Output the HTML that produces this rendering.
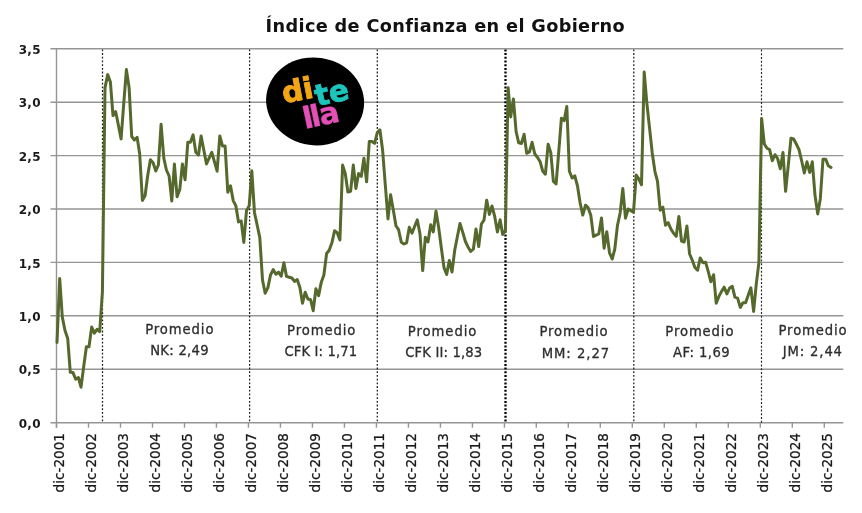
<!DOCTYPE html>
<html lang="es">
<head>
<meta charset="utf-8">
<title>Índice de Confianza en el Gobierno</title>
<style>
html,body{margin:0;padding:0;background:#fff;}
body{width:862px;height:513px;overflow:hidden;}
svg{display:block;will-change:transform;}
</style>
</head>
<body>
<svg width="862" height="513" viewBox="0 0 862 513">
<rect width="862" height="513" fill="#ffffff"/>
<g stroke="#959595" stroke-width="1.4">
<line x1="50.5" y1="48.8" x2="843.3" y2="48.8"/>
<line x1="50.5" y1="102.2" x2="843.3" y2="102.2"/>
<line x1="50.5" y1="155.6" x2="843.3" y2="155.6"/>
<line x1="50.5" y1="209.0" x2="843.3" y2="209.0"/>
<line x1="50.5" y1="262.4" x2="843.3" y2="262.4"/>
<line x1="50.5" y1="315.8" x2="843.3" y2="315.8"/>
<line x1="50.5" y1="369.2" x2="843.3" y2="369.2"/>
<line x1="50.5" y1="422.7" x2="843.3" y2="422.7"/>
<line x1="56.5" y1="48.8" x2="56.5" y2="427.7"/>
<line x1="56.5" y1="422.7" x2="56.5" y2="427.7"/>
<line x1="88.5" y1="422.7" x2="88.5" y2="427.7"/>
<line x1="120.5" y1="422.7" x2="120.5" y2="427.7"/>
<line x1="152.5" y1="422.7" x2="152.5" y2="427.7"/>
<line x1="184.5" y1="422.7" x2="184.5" y2="427.7"/>
<line x1="216.4" y1="422.7" x2="216.4" y2="427.7"/>
<line x1="248.4" y1="422.7" x2="248.4" y2="427.7"/>
<line x1="280.4" y1="422.7" x2="280.4" y2="427.7"/>
<line x1="312.4" y1="422.7" x2="312.4" y2="427.7"/>
<line x1="344.4" y1="422.7" x2="344.4" y2="427.7"/>
<line x1="376.4" y1="422.7" x2="376.4" y2="427.7"/>
<line x1="408.4" y1="422.7" x2="408.4" y2="427.7"/>
<line x1="440.4" y1="422.7" x2="440.4" y2="427.7"/>
<line x1="472.4" y1="422.7" x2="472.4" y2="427.7"/>
<line x1="504.4" y1="422.7" x2="504.4" y2="427.7"/>
<line x1="536.3" y1="422.7" x2="536.3" y2="427.7"/>
<line x1="568.3" y1="422.7" x2="568.3" y2="427.7"/>
<line x1="600.3" y1="422.7" x2="600.3" y2="427.7"/>
<line x1="632.3" y1="422.7" x2="632.3" y2="427.7"/>
<line x1="664.3" y1="422.7" x2="664.3" y2="427.7"/>
<line x1="696.3" y1="422.7" x2="696.3" y2="427.7"/>
<line x1="728.3" y1="422.7" x2="728.3" y2="427.7"/>
<line x1="760.3" y1="422.7" x2="760.3" y2="427.7"/>
<line x1="792.3" y1="422.7" x2="792.3" y2="427.7"/>
<line x1="824.3" y1="422.7" x2="824.3" y2="427.7"/>
</g>
<line x1="102.5" y1="49.4" x2="102.5" y2="422.7" stroke="#1a1a1a" stroke-width="1.25" stroke-dasharray="1.8 1.9"/>
<line x1="249.6" y1="49.4" x2="249.6" y2="422.7" stroke="#1a1a1a" stroke-width="1.25" stroke-dasharray="1.8 1.9"/>
<line x1="377.3" y1="49.4" x2="377.3" y2="422.7" stroke="#1a1a1a" stroke-width="1.25" stroke-dasharray="1.8 1.9"/>
<line x1="505.5" y1="49.4" x2="505.5" y2="422.7" stroke="#000" stroke-width="2.3" stroke-dasharray="2 1.7"/>
<line x1="633.8" y1="49.4" x2="633.8" y2="422.7" stroke="#1a1a1a" stroke-width="1.25" stroke-dasharray="1.8 1.9"/>
<line x1="761.5" y1="49.4" x2="761.5" y2="422.7" stroke="#2a2a2a" stroke-width="1.2" stroke-dasharray="2 1.75"/>
<polyline points="57.0,342.4 59.7,278.5 62.3,317.0 65.0,330.5 67.7,338.5 70.3,372.3 73.0,372.6 75.7,379.2 78.4,377.5 81.0,387.2 83.7,366.6 86.4,346.7 89.0,346.7 91.7,327.0 94.4,333.1 97.0,329.3 99.7,331.6 102.4,292.0 105.0,87.6 107.7,74.6 110.4,82.1 113.0,115.6 115.7,111.7 118.4,125.3 121.1,138.9 123.7,104.2 126.4,69.6 129.1,87.6 131.7,136.5 134.4,140.0 137.1,137.3 139.7,154.0 142.4,200.5 145.1,195.5 147.7,175.5 150.4,159.8 153.1,162.8 155.8,171.0 158.4,165.0 161.1,124.3 163.8,158.0 166.4,170.0 169.1,176.0 171.8,201.0 174.4,164.1 177.1,196.8 179.8,189.3 182.4,164.1 185.1,179.7 187.8,142.3 190.4,142.3 193.1,134.8 195.8,152.3 198.5,155.0 201.1,136.0 203.8,150.0 206.5,164.0 209.1,158.2 211.8,152.3 214.5,161.8 217.1,171.2 219.8,136.0 222.5,146.0 225.1,146.0 227.8,192.2 230.5,185.8 233.2,200.6 235.8,205.6 238.5,221.9 241.2,221.0 243.8,242.4 246.5,210.6 249.2,205.6 251.8,170.8 254.5,212.7 257.2,225.2 259.8,237.6 262.5,280.0 265.2,293.2 267.9,287.6 270.5,275.0 273.2,269.6 275.9,274.2 278.5,272.2 281.2,276.2 283.9,262.8 286.5,276.4 289.2,277.2 291.9,278.0 294.5,281.4 297.2,279.6 299.9,287.6 302.5,303.2 305.2,292.2 307.9,299.0 310.6,299.7 313.2,310.7 315.9,288.8 318.6,295.6 321.2,282.6 323.9,275.0 326.6,253.5 329.2,250.2 331.9,242.8 334.6,230.7 337.2,232.7 339.9,240.0 342.6,165.1 345.3,173.8 347.9,192.1 350.6,191.4 353.3,165.1 355.9,188.6 358.6,173.4 361.3,176.3 363.9,158.2 366.6,181.8 369.3,141.4 371.9,141.4 374.6,143.3 377.3,132.7 379.9,129.8 382.6,150.0 385.3,185.0 388.0,218.9 390.6,194.7 393.3,209.9 396.0,226.0 398.6,229.7 401.3,242.3 404.0,244.0 406.6,242.8 409.3,227.3 412.0,233.2 414.6,226.5 417.3,219.8 420.0,234.0 422.7,270.6 425.3,237.3 428.0,242.0 430.7,224.8 433.3,231.9 436.0,211.0 438.7,227.7 441.3,247.7 444.0,267.6 446.7,274.5 449.3,260.5 452.0,272.0 454.7,250.3 457.4,236.5 460.0,223.5 462.7,232.1 465.4,241.5 468.0,246.9 470.7,251.5 473.4,249.0 476.0,229.0 478.7,246.5 481.4,224.0 484.0,220.2 486.7,200.2 489.4,214.4 492.0,206.0 494.7,216.4 497.4,231.9 500.1,219.8 502.7,234.4 505.4,230.2 508.1,87.7 510.7,116.9 513.4,98.9 516.1,131.5 518.7,142.8 521.4,143.5 524.1,134.3 526.7,153.3 529.4,152.0 532.1,142.3 534.8,154.0 537.4,157.3 540.1,161.6 542.8,171.3 545.4,174.2 548.1,144.3 550.8,152.8 553.4,181.4 556.1,183.9 558.8,151.1 561.4,118.2 564.1,120.7 566.8,106.5 569.4,171.3 572.1,178.0 574.8,175.8 577.5,186.0 580.1,202.7 582.8,215.1 585.5,205.2 588.1,207.7 590.8,215.2 593.5,236.5 596.1,235.2 598.8,234.0 601.5,218.0 604.1,248.2 606.8,231.8 609.5,252.8 612.2,259.0 614.8,249.0 617.5,225.2 620.2,212.7 622.8,188.4 625.5,218.2 628.2,209.0 630.8,210.6 633.5,212.2 636.2,175.1 638.8,178.8 641.5,184.8 644.2,72.1 646.8,102.7 649.5,127.7 652.2,152.7 654.9,171.3 657.5,181.4 660.2,210.2 662.9,207.2 665.5,225.2 668.2,222.7 670.9,229.0 673.5,233.1 676.2,236.4 678.9,216.5 681.5,241.0 684.2,242.0 686.9,226.0 689.6,254.0 692.2,260.0 694.9,267.5 697.6,270.1 700.2,258.0 702.9,262.7 705.6,262.2 708.2,271.4 710.9,281.8 713.6,274.7 716.2,303.2 718.9,296.4 721.6,291.4 724.2,287.2 726.9,293.9 729.6,288.0 732.3,286.4 734.9,297.2 737.6,298.2 740.3,307.4 742.9,302.7 745.6,302.7 748.3,294.9 750.9,287.8 753.6,311.4 756.3,283.9 758.9,262.6 761.6,118.5 764.3,144.0 767.0,148.2 769.6,149.6 772.3,160.6 775.0,154.7 777.6,158.5 780.3,168.8 783.0,152.6 785.6,191.3 788.3,165.1 791.0,138.2 793.6,139.0 796.3,144.0 799.0,149.6 801.7,161.0 804.3,173.0 807.0,161.8 809.7,172.5 812.3,161.8 815.0,195.1 817.7,213.9 820.3,198.9 823.0,159.2 825.7,159.2 828.3,165.8 831.0,167.5" fill="none" stroke="#55692d" stroke-width="3" stroke-linejoin="round" stroke-linecap="round"/>
<g font-family="'DejaVu Sans', 'Liberation Sans', sans-serif" font-weight="bold" font-size="12" fill="#1a1a1a" text-anchor="end" letter-spacing="0.3">
<text x="40.8" y="54.0">3,5</text>
<text x="40.8" y="107.4">3,0</text>
<text x="40.8" y="160.8">2,5</text>
<text x="40.8" y="214.2">2,0</text>
<text x="40.8" y="267.6">1,5</text>
<text x="40.8" y="321.0">1,0</text>
<text x="40.8" y="374.4">0,5</text>
<text x="40.8" y="427.9">0,0</text>
</g>
<g font-family="'DejaVu Sans', 'Liberation Sans', sans-serif" font-size="13.6" fill="#1a1a1a" stroke="#1a1a1a" stroke-width="0.25" text-anchor="end">
<text transform="translate(64.2,433.0) rotate(-90)">dic-2001</text>
<text transform="translate(96.2,433.0) rotate(-90)">dic-2002</text>
<text transform="translate(128.2,433.0) rotate(-90)">dic-2003</text>
<text transform="translate(160.2,433.0) rotate(-90)">dic-2004</text>
<text transform="translate(192.2,433.0) rotate(-90)">dic-2005</text>
<text transform="translate(224.1,433.0) rotate(-90)">dic-2006</text>
<text transform="translate(256.1,433.0) rotate(-90)">dic-2007</text>
<text transform="translate(288.1,433.0) rotate(-90)">dic-2008</text>
<text transform="translate(320.1,433.0) rotate(-90)">dic-2009</text>
<text transform="translate(352.1,433.0) rotate(-90)">dic-2010</text>
<text transform="translate(384.1,433.0) rotate(-90)">dic-2011</text>
<text transform="translate(416.1,433.0) rotate(-90)">dic-2012</text>
<text transform="translate(448.1,433.0) rotate(-90)">dic-2013</text>
<text transform="translate(480.1,433.0) rotate(-90)">dic-2014</text>
<text transform="translate(512.1,433.0) rotate(-90)">dic-2015</text>
<text transform="translate(544.0,433.0) rotate(-90)">dic-2016</text>
<text transform="translate(576.0,433.0) rotate(-90)">dic-2017</text>
<text transform="translate(608.0,433.0) rotate(-90)">dic-2018</text>
<text transform="translate(640.0,433.0) rotate(-90)">dic-2019</text>
<text transform="translate(672.0,433.0) rotate(-90)">dic-2020</text>
<text transform="translate(704.0,433.0) rotate(-90)">dic-2021</text>
<text transform="translate(736.0,433.0) rotate(-90)">dic-2022</text>
<text transform="translate(768.0,433.0) rotate(-90)">dic-2023</text>
<text transform="translate(800.0,433.0) rotate(-90)">dic-2024</text>
<text transform="translate(832.0,433.0) rotate(-90)">dic-2025</text>
</g>
<text x="265.6" y="32.3" textLength="359" lengthAdjust="spacing" font-family="'DejaVu Sans', 'Liberation Sans', sans-serif" font-weight="bold" font-size="17.7" fill="#111">Índice de Confianza en el Gobierno</text>
<g font-family="'DejaVu Sans', 'Liberation Sans', sans-serif" font-size="13.2" fill="#2e2e2e" stroke="#2e2e2e" stroke-width="0.3">
<text x="145.2" y="333.8" textLength="68.3" lengthAdjust="spacing">Promedio</text>
<text x="150.2" y="354.8" textLength="58.4" lengthAdjust="spacing">NK: 2,49</text>
<text x="287.0" y="335.1" textLength="68.3" lengthAdjust="spacing">Promedio</text>
<text x="284.4" y="356.0" textLength="72.7" lengthAdjust="spacing">CFK I: 1,71</text>
<text x="407.8" y="335.7" textLength="68.6" lengthAdjust="spacing">Promedio</text>
<text x="405.2" y="356.7" textLength="77.0" lengthAdjust="spacing">CFK II: 1,83</text>
<text x="539.5" y="336.4" textLength="68.0" lengthAdjust="spacing">Promedio</text>
<text x="541.7" y="357.8" textLength="67.4" lengthAdjust="spacing">MM: 2,27</text>
<text x="665.3" y="335.8" textLength="68.2" lengthAdjust="spacing">Promedio</text>
<text x="673.0" y="356.9" textLength="56.7" lengthAdjust="spacing">AF: 1,69</text>
<text x="778.5" y="334.8" textLength="68.2" lengthAdjust="spacing">Promedio</text>
<text x="782.8" y="356.2" textLength="59.2" lengthAdjust="spacing">JM: 2,44</text>
</g>
<g>
<ellipse cx="315.1" cy="101.4" rx="49.1" ry="43.9" fill="#000" transform="rotate(8 315.1 101.4)"/>
<g font-family="'DejaVu Sans', 'Liberation Sans', sans-serif" font-weight="bold" stroke-width="0.9" stroke-linejoin="round">
<text transform="translate(284,103.3) rotate(-11)" font-size="29.5" fill="#f2a516" stroke="#f2a516">di</text>
<text transform="translate(317.3,106.3) rotate(-13)" font-size="29.5" fill="#1dc4bc" stroke="#1dc4bc">te</text>
<text transform="translate(304.9,129) rotate(-12)" font-size="30" fill="#e450b8" stroke="#e450b8" stroke-width="0.3" dx="0 -2.4 -1.4">lla</text>
</g></g>
</svg>
</body>
</html>
